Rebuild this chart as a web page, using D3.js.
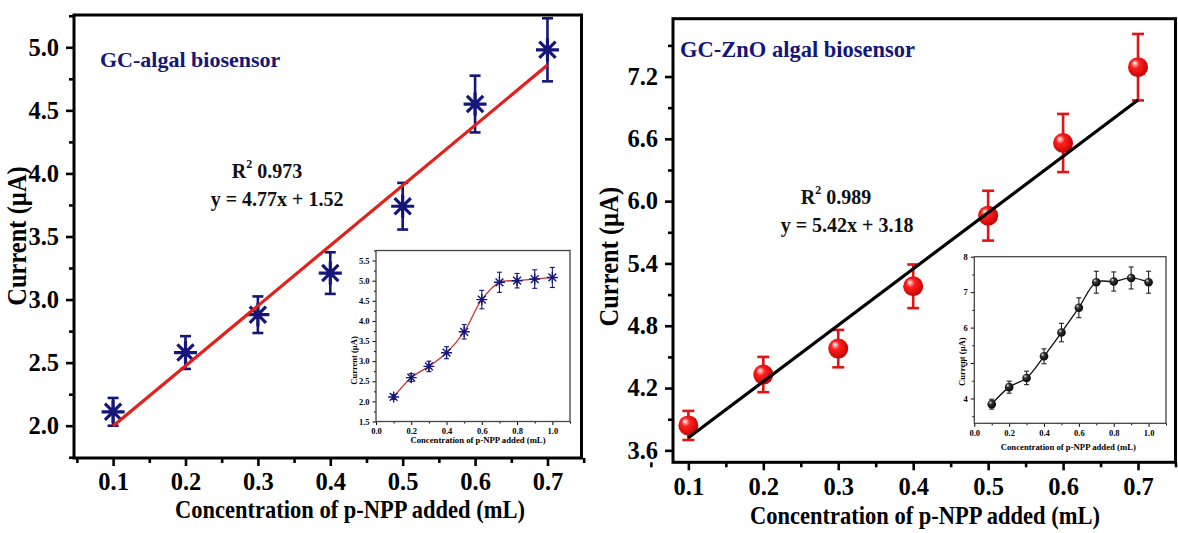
<!DOCTYPE html>
<html>
<head>
<meta charset="utf-8">
<script src="https://cdn.jsdelivr.net/npm/d3@7"></script>
<style>
  body { margin: 0; background: #fff; }
  text { font-family: "Liberation Serif", "Times New Roman", serif; font-weight: bold; }
</style>
</head>
<body>
<div id="viz"></div>
<script>
// data
let mainX = [0.1, 0.2, 0.3, 0.4, 0.5, 0.6, 0.7]
let insetX = [0.1, 0.2, 0.3, 0.4, 0.5, 0.6, 0.7, 0.8, 0.9, 1.0]

let algalCurrent = [2.11, 2.58, 2.88, 3.21, 3.74, 4.55, 4.98]
let algalError = [0.11, 0.13, 0.145, 0.165, 0.185, 0.225, 0.25]
let algalInsetCurrent = [2.11, 2.59, 2.87, 3.21, 3.73, 4.53, 4.96, 5.0, 5.04, 5.08]
let algalInsetError = [0.06, 0.1, 0.13, 0.15, 0.18, 0.23, 0.25, 0.18, 0.23, 0.25]

let znoCurrent = [3.84, 4.33, 4.58, 5.18, 5.86, 6.56, 7.29]
let znoError = [0.14, 0.17, 0.18, 0.21, 0.24, 0.28, 0.32]
let znoInsetCurrent = [3.84, 4.32, 4.58, 5.19, 5.86, 6.56, 7.28, 7.30, 7.40, 7.28]
let znoInsetError = [0.14, 0.17, 0.19, 0.21, 0.26, 0.28, 0.31, 0.27, 0.31, 0.31]

// regression lines as printed on the chart
let algalFit = {slope: 4.77, intercept: 1.52, r2: "0.973", eq: "y = 4.77x + 1.52"}
let znoFit = {slope: 5.42, intercept: 3.18, r2: "0.989", eq: "y = 5.42x + 3.18"}

// tick labels
let mainXTicks = [0.1, 0.2, 0.3, 0.4, 0.5, 0.6, 0.7]
let mainXMinor = [0.05, 0.15, 0.25, 0.35, 0.45, 0.55, 0.65, 0.75]
let algalYTicks = [2.0, 2.5, 3.0, 3.5, 4.0, 4.5, 5.0]
let algalYMinor = [1.75, 2.25, 2.75, 3.25, 3.75, 4.25, 4.75, 5.25]
let znoYTicks = [3.6, 4.2, 4.8, 5.4, 6.0, 6.6, 7.2]
let znoYMinor = [3.9, 4.5, 5.1, 5.7, 6.3, 6.9, 7.5]
let insetXTicks = [0, 0.2, 0.4, 0.6, 0.8, 1.0]
let insetXMinor = [0.1, 0.3, 0.5, 0.7, 0.9, 1.1]
let algalInsetYTicks = [1.5, 2.0, 2.5, 3.0, 3.5, 4.0, 4.5, 5.0, 5.5]
let algalInsetYMinor = [1.75, 2.25, 2.75, 3.25, 3.75, 4.25, 4.75, 5.25, 5.75]
let znoInsetYTicks = [4, 5, 6, 7, 8]
let znoInsetYMinor = [3.5, 4.5, 5.5, 6.5, 7.5]

let xTitle = "Concentration of p-NPP added (mL)"
let yTitle = "Current (\u00b5A)"

let navy = "#15157a"

let svg = d3.select("#viz")
  .append("svg")
    .attr("width", 1178)
    .attr("height", 533)

// gradients for the ball markers
let defs = svg.append("defs")
function ball(id, light, mid, dark) {
  let gr = defs.append("radialGradient").attr("id", id)
    .attr("cx", "45%").attr("cy", "45%").attr("r", "60%")
    .attr("fx", "32%").attr("fy", "28%")
  gr.append("stop").attr("offset", "0%").attr("stop-color", light)
  gr.append("stop").attr("offset", "35%").attr("stop-color", mid)
  gr.append("stop").attr("offset", "100%").attr("stop-color", dark)
}
ball("redBall", "#fff", "#ff2020", "#c00000")
ball("blackBall", "#eee", "#333", "#000")

// 8 armed asterisk
function star(r) {
  let p = ""
  for (let a = 0; a < 4; a++) {
    let t = a * Math.PI / 4
    let dx = r * Math.cos(t), dy = r * Math.sin(t)
    p += `M${-dx},${-dy}L${dx},${dy}`
  }
  return p
}

function axes(g, x, y, w, h, o) {
  g.append("g").attr("transform", `translate(0,${h})`)
    .call(d3.axisBottom(x).tickValues(o.xMinor).tickSize(o.minor).tickFormat(""))
  g.append("g").attr("transform", `translate(0,${h})`)
    .call(d3.axisBottom(x).tickValues(o.xTicks).tickSize(o.major).tickPadding(o.pad).tickFormat(o.xFmt))
    .selectAll("text").attr("font-size", o.font)
  g.append("g")
    .call(d3.axisLeft(y).tickValues(o.yMinor).tickSize(o.minor).tickFormat(""))
  g.append("g")
    .call(d3.axisLeft(y).tickValues(o.yTicks).tickSize(o.major).tickPadding(o.pad).tickFormat(o.yFmt))
    .selectAll("text").attr("font-size", o.font)
  g.selectAll(".domain").remove()
  g.selectAll(".tick line").attr("stroke", "#000").attr("stroke-width", o.tickW)
  g.selectAll(".tick text").attr("fill", "#000")
  g.append("rect").attr("class", "frame").attr("width", w).attr("height", h)
    .attr("fill", "none").attr("stroke", "#000").attr("stroke-width", o.frame)
}

function errorBars(g, xs, ys, es, x, y, cap, color, sw) {
  let eb = g.append("g").attr("stroke", color).attr("stroke-width", sw)
  xs.forEach((v, i) => {
    let top = y(ys[i] + es[i]), bot = y(ys[i] - es[i]), cx = x(v)
    eb.append("line").attr("x1", cx).attr("x2", cx).attr("y1", top).attr("y2", bot)
    eb.append("line").attr("x1", cx - cap).attr("x2", cx + cap).attr("y1", top).attr("y2", top)
    eb.append("line").attr("x1", cx - cap).attr("x2", cx + cap).attr("y1", bot).attr("y2", bot)
  })
}

function drawPanel(p) {
  let g = svg.append("g").attr("transform", `translate(${p.left},${p.top})`)
  let x = d3.scaleLinear().domain(p.xDomain).range([0, p.w])
  let y = d3.scaleLinear().domain(p.yDomain).range([p.h, 0])

  axes(g, x, y, p.w, p.h, {
    xTicks: mainXTicks, xMinor: mainXMinor, yTicks: p.yTicks, yMinor: p.yMinor,
    xFmt: d3.format(".1f"), yFmt: d3.format(".1f"),
    major: 8, minor: 5, pad: 7, font: 24.5, tickW: 2.6, frame: 3
  })

  // points
  errorBars(g, mainX, p.values, p.errors, x, y, p.cap, p.errColor, 2.6)
  if (p.marker == "star") {
    g.selectAll(".pt").data(mainX).join("path")
      .attr("class", "pt")
      .attr("d", star(11.5))
      .attr("transform", (d, i) => `translate(${x(d)},${y(p.values[i])})`)
      .attr("stroke", navy).attr("stroke-width", 3.2).attr("fill", "none")
  } else {
    g.selectAll(".pt").data(mainX).join("circle")
      .attr("class", "pt")
      .attr("cx", d => x(d))
      .attr("cy", (d, i) => y(p.values[i]))
      .attr("r", 10)
      .attr("fill", "url(#redBall)")
  }

  // fit line
  let x0 = mainX[0], x1 = mainX[mainX.length - 1]
  g.append("line")
    .attr("x1", x(x0)).attr("y1", y(p.fit.slope * x0 + p.fit.intercept))
    .attr("x2", x(x1)).attr("y2", y(p.fit.slope * x1 + p.fit.intercept))
    .attr("stroke", p.lineColor).attr("stroke-width", 3.2)

  // texts
  g.append("text").attr("x", p.titlePos[0]).attr("y", p.titlePos[1])
    .attr("font-size", p.titleSize).attr("fill", navy).text(p.title)
  let r2 = g.append("text")
    .attr("transform", `translate(${p.r2Pos[0]},${p.r2Pos[1]}) scale(1,1.1)`)
    .attr("text-anchor", "middle").attr("font-size", 20).attr("fill", "#111")
  r2.append("tspan").text("R")
  r2.append("tspan").attr("font-size", 12).attr("dy", -9).text("2")
  r2.append("tspan").attr("dy", 9).text(" " + p.fit.r2)
  g.append("text")
    .attr("transform", `translate(${p.eqPos[0]},${p.eqPos[1]}) scale(1,1.1)`)
    .attr("text-anchor", "middle").attr("font-size", 20).attr("fill", "#111")
    .text(p.fit.eq)

  g.append("text")
    .attr("transform", `translate(${p.yTitlePos[0]},${p.yTitlePos[1]}) rotate(-90) scale(1,1.1)`)
    .attr("text-anchor", "middle").attr("font-size", 24.5).text(yTitle)
  g.append("text")
    .attr("transform", `translate(${p.xTitlePos[0]},${p.xTitlePos[1]}) scale(1,1.1)`)
    .attr("text-anchor", "middle").attr("font-size", 22.5).text(xTitle)

  // inset
  let ins = p.inset
  let gi = g.append("g").attr("transform", `translate(${ins.left},${ins.top})`)
  gi.append("rect").attr("width", ins.w).attr("height", ins.h).attr("fill", "#fff")
  let xi = d3.scaleLinear().domain([0, 1.1]).range([0, ins.w])
  let yi = d3.scaleLinear().domain(ins.yDomain).range([ins.h, 0])
  axes(gi, xi, yi, ins.w, ins.h, {
    xTicks: insetXTicks, xMinor: insetXMinor, yTicks: ins.yTicks, yMinor: ins.yMinor,
    xFmt: d3.format(".1f"), yFmt: ins.yFmt,
    major: 3.5, minor: 2, pad: 3, font: 8.5, tickW: 1, frame: 1.3
  })
  gi.select(".frame").attr("stroke", "#444")

  let curve = d3.line()
    .x(d => xi(d[0])).y(d => yi(d[1]))
    .curve(d3.curveCatmullRom.alpha(0.5))
  gi.append("path")
    .attr("d", curve(insetX.map((v, i) => [v, ins.values[i]])))
    .attr("fill", "none").attr("stroke", ins.lineColor).attr("stroke-width", 1.3)

  errorBars(gi, insetX, ins.values, ins.errors, xi, yi, 2.5, ins.errColor, 1.1)
  if (p.marker == "star") {
    gi.selectAll(".pt").data(insetX).join("path")
      .attr("class", "pt")
      .attr("d", star(5.5))
      .attr("transform", (d, i) => `translate(${xi(d)},${yi(ins.values[i])})`)
      .attr("stroke", navy).attr("stroke-width", 1.4).attr("fill", "none")
  } else {
    gi.selectAll(".pt").data(insetX).join("circle")
      .attr("class", "pt")
      .attr("cx", d => xi(d))
      .attr("cy", (d, i) => yi(ins.values[i]))
      .attr("r", 4.3)
      .attr("fill", "url(#blackBall)")
  }

  gi.append("text")
    .attr("transform", `translate(${ins.yTitlePos[0]},${ins.yTitlePos[1]}) rotate(-90)`)
    .attr("text-anchor", "middle").attr("font-size", 8.5).text(yTitle)
  gi.append("text").attr("x", ins.xTitlePos[0]).attr("y", ins.xTitlePos[1])
    .attr("text-anchor", "middle").attr("font-size", 8.7).text(xTitle)
}

drawPanel({
  left: 74, top: 15, w: 507.5, h: 443,
  xDomain: [0.046, 0.747], yDomain: [1.744, 5.256],
  yTicks: algalYTicks, yMinor: algalYMinor,
  values: algalCurrent, errors: algalError, cap: 5.5, errColor: navy,
  marker: "star", fit: algalFit, lineColor: "#e3201b",
  title: "GC-algal biosensor", titleSize: 22, titlePos: [26, 52],
  r2Pos: [193, 163], eqPos: [203, 191],
  yTitlePos: [-48, 221], xTitlePos: [276, 503],
  inset: {
    left: 302, top: 235.5, w: 194, h: 171,
    yDomain: [1.5, 5.75], yTicks: algalInsetYTicks, yMinor: algalInsetYMinor,
    yFmt: d3.format(".1f"),
    values: algalInsetCurrent, errors: algalInsetError,
    lineColor: "#c03a32", errColor: navy,
    yTitlePos: [-19, 110], xTitlePos: [102, 192]
  }
})

drawPanel({
  left: 673, top: 18.7, w: 502.5, h: 443.6,
  xDomain: [0.0795, 0.75], yDomain: [3.485, 7.757],
  yTicks: znoYTicks, yMinor: znoYMinor,
  values: znoCurrent, errors: znoError, cap: 6, errColor: "#e01515",
  marker: "ball", fit: znoFit, lineColor: "#000",
  title: "GC-ZnO algal biosensor", titleSize: 22.5, titlePos: [7, 38],
  r2Pos: [163, 185], eqPos: [174, 213],
  yTitlePos: [-55, 238], xTitlePos: [252, 505],
  inset: {
    left: 301.3, top: 238, w: 191.7, h: 166.6,
    yDomain: [3.3, 8], yTicks: znoInsetYTicks, yMinor: znoInsetYMinor,
    yFmt: d3.format("d"),
    values: znoInsetCurrent, errors: znoInsetError,
    lineColor: "#111", errColor: "#222",
    yTitlePos: [-9, 105], xTitlePos: [94, 193]
  }
})
</script>
</body>
</html>
